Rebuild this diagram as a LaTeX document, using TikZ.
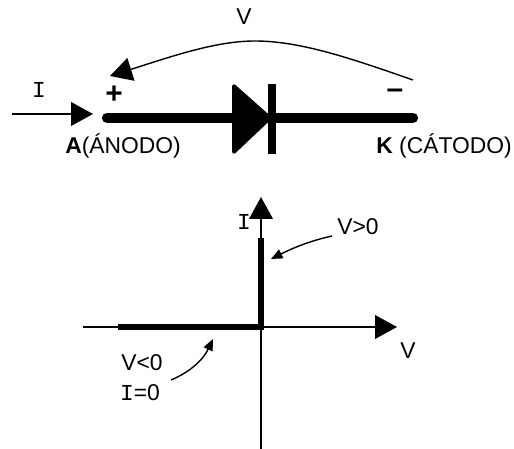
\documentclass[tikz,border=0pt]{standalone}
\usepackage{fontspec}
\setmainfont{Liberation Sans}
\setmonofont{Liberation Mono}
\usetikzlibrary{arrows.meta,positioning}
\newcommand{\serifI}{{\ttfamily I}}

\begin{document}
\begin{tikzpicture}[x=0.02cm,y=-0.02cm,
	lbl/.style={inner sep=0pt,font=\fontsize{13}{15}\selectfont},
	sign/.style={inner sep=0pt,font=\fontsize{17}{17}\selectfont\bfseries},
	thin line/.style={line width=0.8pt},
	wire/.style={line width=5.8pt,line cap=round},
	curve/.style={line width=3.2pt},
	big tip/.style={-{Triangle[length=12.5pt,width=13.5pt]}},
	small tip/.style={-{Triangle[length=6.5pt,width=5.5pt]}}]
		\useasboundingbox (0,0) rectangle (514,449);

		\coordinate (istart) at (12,114);
		\coordinate (iend) at (93,114);
		\coordinate (anode) at (107,118);
		\coordinate (cathode) at (413,118);
		\coordinate (arcstart) at (413,80);
		\coordinate (arctop) at (255,41);
		\coordinate (arcend) at (110,76);

		\draw[wire] (anode) -- (cathode);
		\fill[line join=round,draw,line width=2pt] (234,86) -- (270,118) -- (234,152) -- cycle;
		\fill (268,84) rectangle (276,154);

		\draw[thin line,big tip] (istart) -- (iend);
		\draw[thin line,big tip] (arcstart) .. controls (350,58) and (300,41) .. (arctop) .. controls (215,41) and (170,57) .. (arcend);

		\node[lbl] (vtop) at (244,17) {V};
		\node[lbl] (itop) at (39,90) {\serifI};
		\node[sign] (plus) at (114,95) {+};
		\node[sign] (minus) at (395,94) {–};
		\node[lbl] (alabel) at (123,146) {\textbf{A}(ÁNODO)};
		\node[lbl] (klabel) at (444,146) {\textbf{K} (CÁTODO)};

		\coordinate (origin) at (261,327);
		\coordinate (xstart) at (83,327);
		\coordinate (xend) at (397,327);
		\coordinate (ystart) at (261,449);
		\coordinate (yend) at (261,197);
		\coordinate (offleft) at (118,327);
		\coordinate (ontop) at (261,238);

		\draw[thin line,big tip] (xstart) -- (xend);
		\draw[thin line,big tip] (ystart) -- (yend);
		\draw[curve] (offleft) -- (origin) -- (ontop);

		\node[lbl] (iaxis) at (244,222) {\serifI};
		\node[lbl] (vaxis) at (408,351) {V};
		\node[lbl] (vpos) at (358,227) {V>0};
		\node[lbl] (vneg) at (142,363) {V<0};
		\node[lbl] (izero) at (140,393) {\serifI=0};

		\coordinate (posstart) at (332,236);
		\coordinate (posend) at (271,259);
		\coordinate (negstart) at (171,380);
		\coordinate (negend) at (213,339);

		\draw[thin line,small tip] (posstart) .. controls (310,241) and (295,247) .. (posend);
		\draw[thin line,small tip] (negstart) .. controls (190,372) and (203,360) .. (negend);
	\end{tikzpicture}
\end{document}
